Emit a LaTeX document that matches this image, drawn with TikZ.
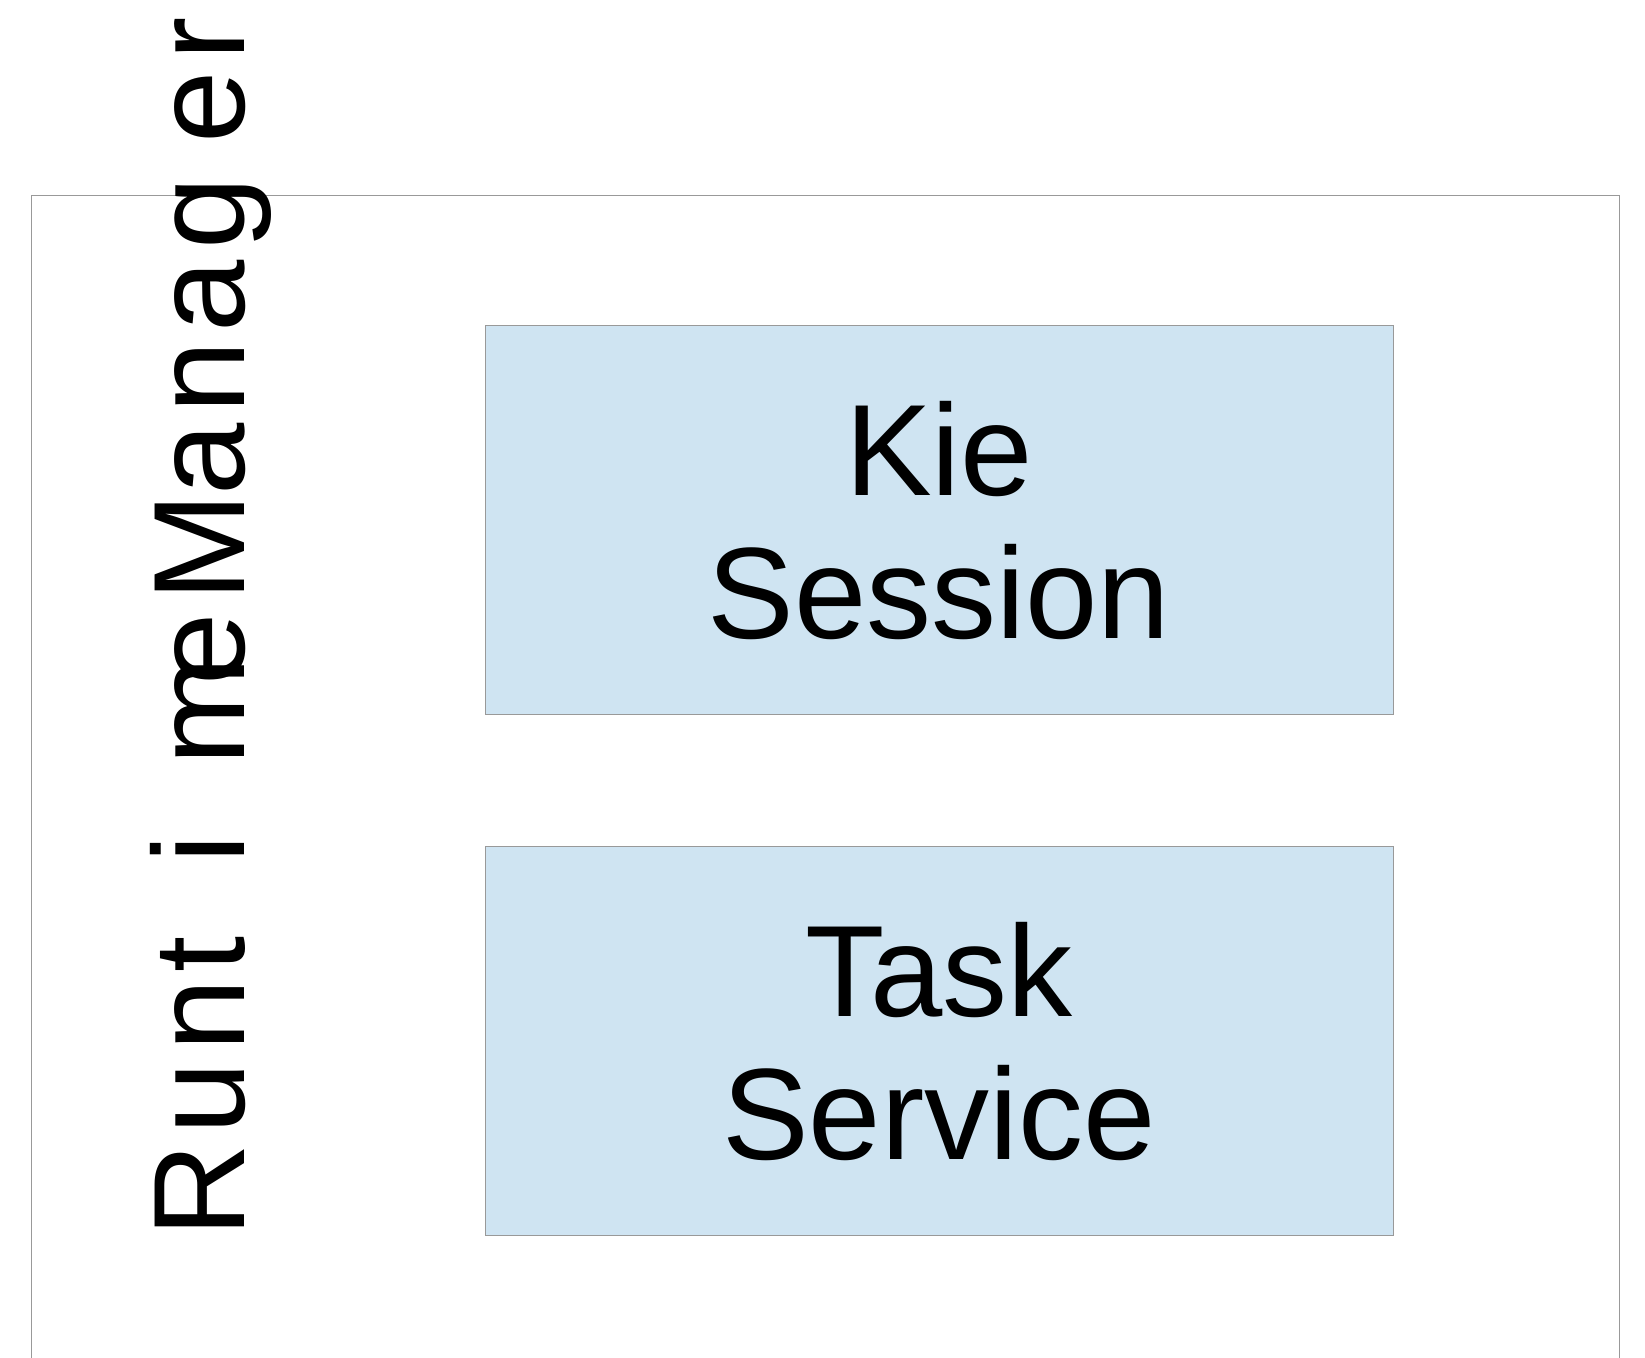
\documentclass[tikz,border=0pt]{standalone}
\usepackage{fontspec}
\setmainfont{Liberation Sans}
\usetikzlibrary{positioning}
\definecolor{boxblue}{RGB}{207,228,242}
\definecolor{linegray}{RGB}{153,153,153}

\begin{document}
\begin{tikzpicture}[%
x={(0.5pt,0pt)},
y={(0pt,0.5pt)},
box/.style={rectangle,draw=linegray,line width=0.5pt,fill=boxblue,inner sep=0pt,
  minimum width=454pt,minimum height=194.5pt,align=center,
  font=\fontsize{65}{71.5}\selectfont},
]

\useasboundingbox (0,0) rectangle (1645,1358);
\clip (0,0) rectangle (1645,1358);

\coordinate (A) at (31.7,1162.3);
\coordinate (B) at (1619.3,1162.3);
\coordinate (C) at (1619.3,-20);
\coordinate (D) at (31.7,-20);

%Rahmen
\draw[linegray,line width=0.5pt] (D) -- (A) -- (B) -- (C);

%Titel
\node[rotate=90,anchor=base west,inner sep=0pt,font=\fontsize{65}{71.5}\selectfont](rtm) at (244,120)
{R\kern4.5pt u\kern5.5pt n\kern3.5pt t\kern36.5pt i\kern34.5pt m\kern-14.5pt e\kern6pt M\kern-1pt a\kern5pt n\kern4pt a\kern5.5pt g\kern17pt e\kern5pt r};

%Kasten
\node[box](kie) at (939,837.5){Kie\\Session};
\node[box,below=65.5pt of kie](task){Task\\Service};

\end{tikzpicture}
\end{document}
